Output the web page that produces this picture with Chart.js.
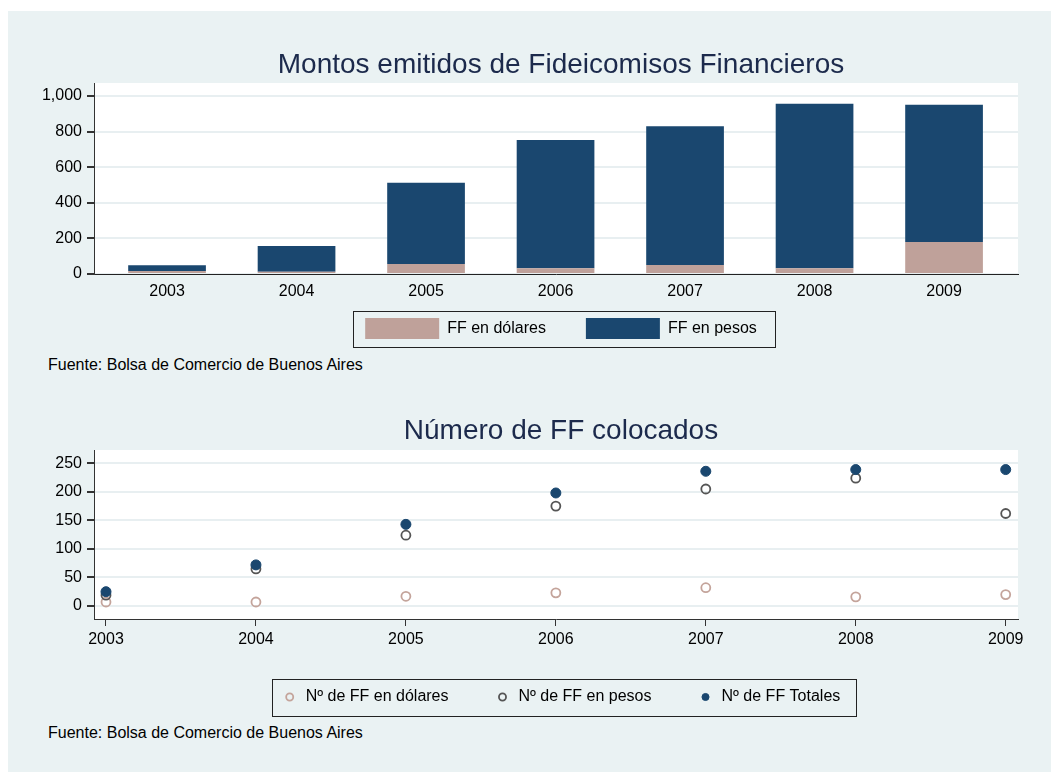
<!DOCTYPE html>
<html lang="es">
<head>
<meta charset="utf-8">
<title>Fideicomisos Financieros</title>
<script src="https://cdn.jsdelivr.net/npm/chart.js@4.4.1/dist/chart.umd.min.js"></script>
<style>
  html, body { margin: 0; padding: 0; width: 1051px; height: 772px; overflow: hidden; background: #fff; }
  #panel { position: absolute; left: 8px; top: 11px; right: 0; bottom: 0; background: #eaf2f3; }
  canvas { position: absolute; left: 0; }
  #montos { top: 0; }
  #numero { top: 380px; }
  .fuente { position: absolute; left: 48px; font: 16px 'Liberation Sans', Arial, sans-serif; line-height: 20px; color: #000; white-space: nowrap; }
</style>
</head>
<body>
<div id="panel"></div>
<canvas id="montos" width="1122" height="350"></canvas>
<div class="fuente" style="top:355px">Fuente: Bolsa de Comercio de Buenos Aires</div>
<canvas id="numero" width="1122" height="339"></canvas>
<div class="fuente" style="top:723px">Fuente: Bolsa de Comercio de Buenos Aires</div>

<script>
'use strict';

// ── Datos ──────────────────────────────────────────────
const anios = [2003, 2004, 2005, 2006, 2007, 2008, 2009];

// montos emitidos (millones)
const montoDolares = [17, 13, 56, 32, 50, 32, 180];
const montoPesos   = [32, 144, 457, 721, 780, 925, 771];

// número de FF colocados
const ffDolares = [7, 7, 17, 23, 32, 16, 20];
const ffPesos   = [19, 65, 124, 175, 205, 224, 162];
const ffTotales = [25, 72, 143, 198, 236, 239, 239];

const ticksMontos = [0, 200, 400, 600, 800, 1000];
const ticksNumero = [0, 50, 100, 150, 200, 250];

// ── Estilo ─────────────────────────────────────────────
const NAVY  = '#1a476f';
const ROSA  = '#bfa19a';
const GRIS  = '#555555';
const GRID  = '#e8eff1';
const EJE   = '#333333';
const TITULO = '#1c2a4c';

Chart.defaults.font.family = "'Liberation Sans', Arial, sans-serif";
Chart.defaults.font.size = 16;
Chart.defaults.color = '#000';

function puntos(vals) {
  return anios.map((a, i) => ({ x: a, y: vals[i] }));
}

const fondoBlanco = {
  id: 'fondoBlanco',
  beforeDraw(chart) {
    const a = chart.chartArea, ctx = chart.ctx;
    ctx.save();
    ctx.fillStyle = '#fff';
    ctx.fillRect(a.left, a.top, a.right - a.left, a.bottom - a.top);
    ctx.restore();
  }
};

// marco alrededor de la leyenda: m = [izq, arriba, der, abajo]
function marcoLeyenda(m) {
  return {
    id: 'marcoLeyenda',
    afterDraw(chart) {
      const boxes = chart.legend && chart.legend.legendHitBoxes;
      if (!boxes || !boxes.length) return;
      const left   = Math.min(...boxes.map(b => b.left)) - m[0];
      const top    = Math.min(...boxes.map(b => b.top)) - m[1];
      const right  = Math.max(...boxes.map(b => b.left + b.width)) + m[2];
      const bottom = Math.max(...boxes.map(b => b.top + b.height)) + m[3];
      const ctx = chart.ctx;
      ctx.save();
      ctx.strokeStyle = '#222';
      ctx.lineWidth = 1;
      ctx.strokeRect(Math.round(left) + 0.5, Math.round(top) + 0.5,
                     Math.round(right - left), Math.round(bottom - top));
      ctx.restore();
    }
  };
}

// eje x con altura fija; las etiquetas se dibujan sin recorte
function ejeXFijo(alto) {
  return s => {
    s.height = alto;
    s._computeLabelArea = () => undefined;
  };
}

// eje fantasma a la derecha para centrar título y leyenda
const ejeDerecha = {
  position: 'right', display: true,
  grid: { display: false }, border: { display: false }, ticks: { display: false },
  afterFit: s => { s.width = 104; }
};

// ── Gráfico 1: montos ──────────────────────────────────
new Chart(document.getElementById('montos'), {
  type: 'bar',
  data: {
    datasets: [
      { label: 'FF en dólares', data: puntos(montoDolares), backgroundColor: ROSA,
        barPercentage: 0.6, categoryPercentage: 1 },
      { label: 'FF en pesos', data: puntos(montoPesos), backgroundColor: NAVY,
        barPercentage: 0.6, categoryPercentage: 1 }
    ]
  },
  options: {
    responsive: false,
    animation: false,
    layout: { padding: { left: 0, right: 0, top: 0, bottom: 1 } },
    plugins: {
      title: {
        display: true, text: 'Montos emitidos de Fideicomisos Financieros',
        color: TITULO, font: { size: 28, weight: 'normal' },
        padding: { top: 48, bottom: 1.4 }
      },
      legend: {
        position: 'bottom',
        labels: { boxWidth: 74, boxHeight: 21, padding: 40, color: '#000', font: { size: 16 } }
      },
      tooltip: { enabled: false }
    },
    scales: {
      x: {
        type: 'linear', stacked: true, offset: false,
        min: 2002.436, max: 2009.571,
        grid: { display: false, drawTicks: false },
        border: { color: '#222', width: 1 },
        ticks: { padding: 8, callback: v => String(v) },
        afterBuildTicks: s => { s.ticks = anios.map(v => ({ value: v })); },
        afterFit: ejeXFijo(4)
      },
      y: {
        stacked: true, min: 0, max: 1073,
        grid: { color: GRID, lineWidth: 2, tickColor: EJE, tickLength: 7 },
        border: { color: EJE, width: 1 },
        ticks: { padding: 5, callback: v => v.toLocaleString('en-US') },
        afterBuildTicks: s => { s.ticks = ticksMontos.map(v => ({ value: v })); },
        afterFit: s => { s.width = 94; }
      },
      derecha: ejeDerecha
    }
  },
  plugins: [fondoBlanco, marcoLeyenda([12, 7, 18, 8])]
});

// ── Gráfico 2: número de FF ────────────────────────────
new Chart(document.getElementById('numero'), {
  type: 'scatter',
  data: {
    datasets: [
      { label: 'Nº de FF en dólares', data: puntos(ffDolares), order: 3,
        pointStyle: 'circle', pointRadius: 4.5, pointBorderWidth: 1.8,
        pointBorderColor: '#c4a49b', pointBackgroundColor: 'rgba(0,0,0,0)',
        borderColor: '#c4a49b', backgroundColor: 'rgba(0,0,0,0)', borderWidth: 1.8 },
      { label: 'Nº de FF en pesos', data: puntos(ffPesos), order: 2,
        pointStyle: 'circle', pointRadius: 4.5, pointBorderWidth: 1.8,
        pointBorderColor: GRIS, pointBackgroundColor: 'rgba(0,0,0,0)',
        borderColor: GRIS, backgroundColor: 'rgba(0,0,0,0)', borderWidth: 1.8 },
      { label: 'Nº de FF Totales', data: puntos(ffTotales), order: 1,
        pointStyle: 'circle', pointRadius: 5, pointBorderWidth: 1,
        pointBorderColor: NAVY, pointBackgroundColor: NAVY,
        borderColor: NAVY, backgroundColor: NAVY, borderWidth: 1 }
    ]
  },
  options: {
    responsive: false,
    animation: false,
    layout: { padding: { left: 0, right: 0, top: 0, bottom: 4 } },
    plugins: {
      title: {
        display: true, text: 'Número de FF colocados',
        color: TITULO, font: { size: 28, weight: 'normal' },
        padding: { top: 34.2, bottom: 2.2 }
      },
      legend: {
        position: 'bottom',
        labels: {
          usePointStyle: true, boxWidth: 16, boxHeight: 5, padding: 46,
          color: '#000', font: { size: 16 },
          sort: (a, b) => a.datasetIndex - b.datasetIndex
        }
      },
      tooltip: { enabled: false }
    },
    scales: {
      x: {
        type: 'linear', min: 2002.92, max: 2009.082,
        grid: { display: true, drawOnChartArea: false, drawTicks: true, tickLength: 7, tickColor: EJE },
        border: { color: EJE, width: 1 },
        ticks: { padding: 4, callback: v => String(v) },
        afterBuildTicks: s => { s.ticks = anios.map(v => ({ value: v })); },
        afterFit: ejeXFijo(24)
      },
      y: {
        min: -22.8, max: 273.3,
        grid: { color: GRID, lineWidth: 2, tickColor: EJE, tickLength: 7 },
        border: { color: EJE, width: 1 },
        ticks: { padding: 5, callback: v => String(v) },
        afterBuildTicks: s => { s.ticks = ticksNumero.map(v => ({ value: v })); },
        afterFit: s => { s.width = 94; }
      },
      derecha: ejeDerecha
    }
  },
  plugins: [fondoBlanco, marcoLeyenda([10, 10, 15, 11])]
});
</script>
</body>
</html>
